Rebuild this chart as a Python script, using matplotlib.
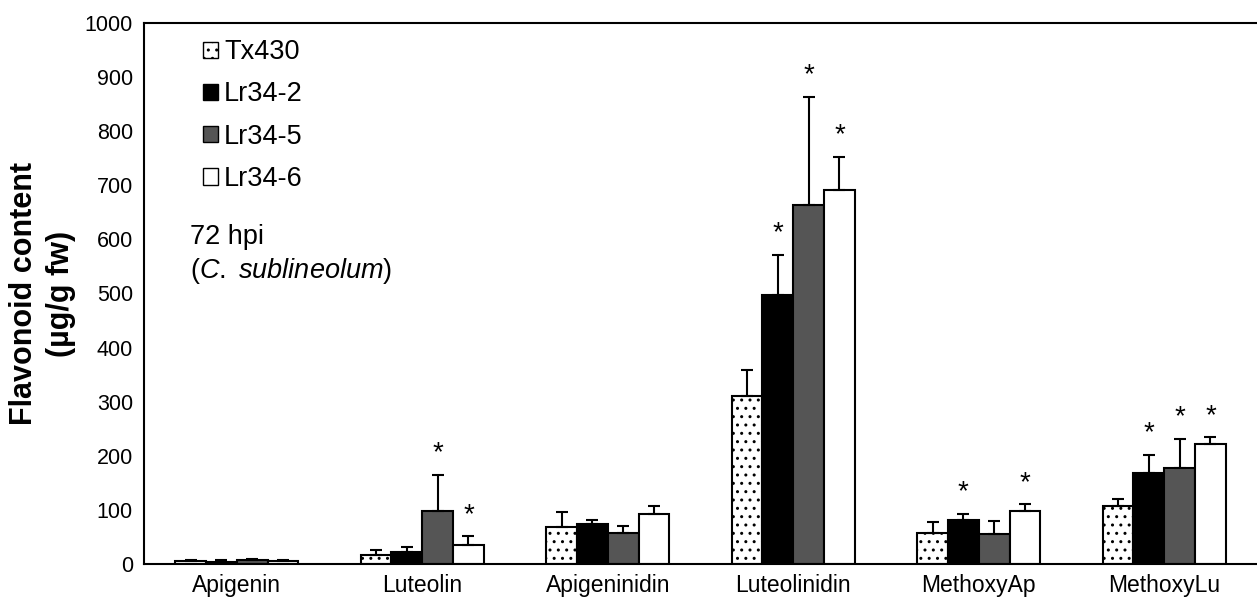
import numpy as np
import matplotlib.pyplot as plt
from matplotlib.patches import Patch

plt.rcParams['font.family'] = ['Liberation Sans', 'DejaVu Sans']
plt.rcParams['mathtext.fontset'] = 'custom'
plt.rcParams['mathtext.rm'] = 'Liberation Sans'
plt.rcParams['mathtext.it'] = 'Liberation Sans:italic'
plt.rcParams['hatch.linewidth'] = 1.0

categories = ['Apigenin', 'Luteolin', 'Apigeninidin', 'Luteolinidin', 'MethoxyAp', 'MethoxyLu']
lines = ['Tx430', 'Lr34-2', 'Lr34-5', 'Lr34-6']

tx430 = [5, 17, 68, 310, 58, 108]
lr34_2 = [3, 23, 73, 497, 82, 168]
lr34_5 = [7, 98, 57, 663, 56, 178]
lr34_6 = [5, 35, 92, 691, 98, 222]

tx430_err = [3, 8, 29, 49, 19, 12]
lr34_2_err = [4, 8, 9, 74, 11, 33]
lr34_5_err = [3, 67, 13, 200, 24, 53]
lr34_6_err = [3, 16, 16, 61, 12, 12]

# which bars get an asterisk (per line, per category)
sig_tx430 = [0, 0, 0, 0, 0, 0]
sig_lr34_2 = [0, 0, 0, 1, 1, 1]
sig_lr34_5 = [0, 1, 0, 1, 0, 1]
sig_lr34_6 = [0, 1, 0, 1, 1, 1]

values = [tx430, lr34_2, lr34_5, lr34_6]
errors = [tx430_err, lr34_2_err, lr34_5_err, lr34_6_err]
sigs = [sig_tx430, sig_lr34_2, sig_lr34_5, sig_lr34_6]
fills = ['white', 'black', '#555555', 'white']
hatches = ['..', None, None, None]

fig = plt.figure(figsize=(12.57, 6.01), dpi=100)
ax = fig.add_axes([0.1146, 0.0616, 0.8854, 0.9001])

x = np.arange(len(categories))
w = 0.166
for i in range(4):
    pos = x + (i - 1.5) * w
    ax.bar(pos, values[i], width=w, color=fills[i], edgecolor='black',
           linewidth=1.5, hatch=hatches[i], zorder=2)
    ax.errorbar(pos, values[i], yerr=[np.zeros(len(x)), errors[i]], fmt='none',
                ecolor='black', elinewidth=1.5, capsize=4, capthick=1.5, zorder=3)
    for j in range(len(x)):
        if sigs[i][j]:
            ax.text(pos[j], values[i][j] + errors[i][j] + 40, '*', ha='center',
                    va='center', fontsize=20)

ax.set_xlim(-0.5, len(categories) - 0.5)
ax.set_ylim(0, 1000)
ax.set_yticks(range(0, 1001, 100))
ax.set_xticks(x)
ax.set_xticklabels(categories)
ax.tick_params(axis='both', length=0)
ax.tick_params(axis='x', pad=7, labelsize=16.5)
ax.tick_params(axis='y', pad=8, labelsize=15.5)
for s in ['left', 'bottom', 'top']:
    ax.spines[s].set_linewidth(1.5)
ax.spines['right'].set_visible(False)

ax.set_ylabel('Flavonoid content\n(µg/g fw)', fontsize=22, fontweight='bold',
              labelpad=6, linespacing=1.3)

handles = [Patch(facecolor=fills[i], edgecolor='black', hatch=hatches[i], linewidth=1)
           for i in range(4)]
ax.legend(handles, lines, loc='upper left', bbox_to_anchor=(0.053, 0.97), frameon=False,
          fontsize=19.5, handlelength=0.55, handleheight=0.55, handletextpad=0.22,
          labelspacing=0.6, borderaxespad=0, borderpad=0)

ax.text(0.041, 0.571, '72 hpi\n($\\it{C.}$ $\\it{sublineolum}$)', transform=ax.transAxes,
        fontsize=19.5, va='center', ha='left', linespacing=1.25)

fig.savefig('out.png', dpi=100)
